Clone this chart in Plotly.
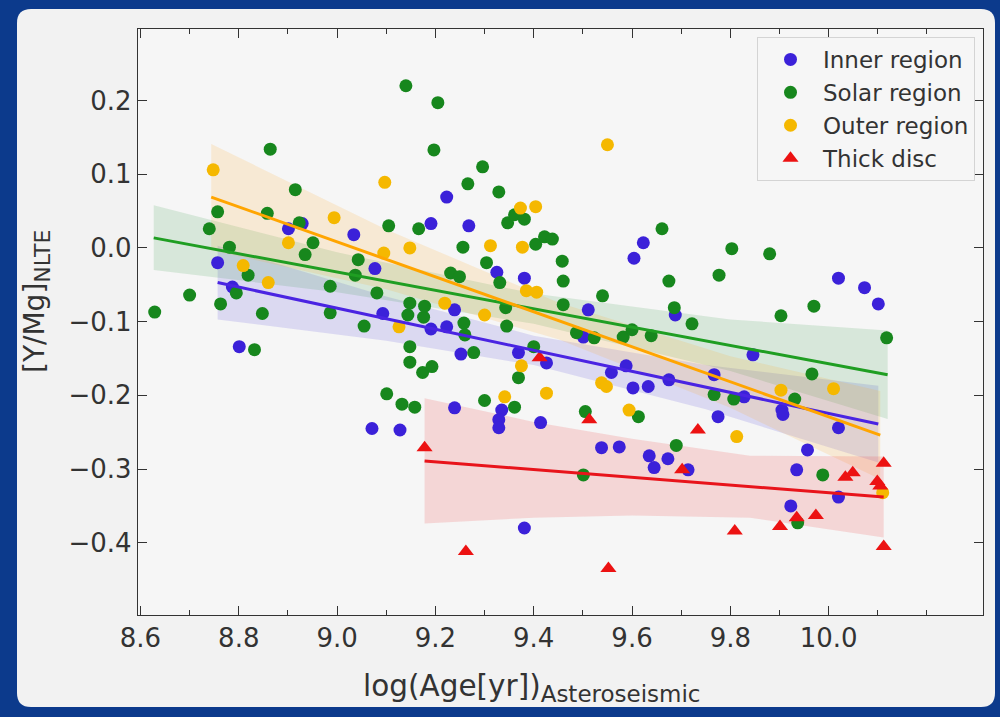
import plotly.graph_objects as go

# ---------------- data ----------------
inner_x = [8.757, 8.787, 8.801, 8.901, 8.929, 9.034, 9.077, 9.093, 9.071, 9.128, 9.191, 9.223, 9.268, 9.191,
           9.223, 9.239, 9.239, 9.252, 9.325, 9.381, 9.335, 9.329, 9.329, 9.369, 9.426, 9.414, 9.381, 9.511,
           9.501, 9.558, 9.588, 9.602, 9.633, 9.675, 9.767, 9.828, 9.846, 9.775, 9.905, 9.907, 10.020, 9.538,
           9.574, 9.635, 9.673, 9.645, 9.714, 9.957, 9.935, 10.020, 9.923, 9.604, 9.623, 9.688, 10.020, 10.073,
           10.101]
inner_y = [-0.020, -0.053, -0.134, 0.026, 0.033, 0.018, -0.028, -0.089, -0.245, -0.247, 0.033, 0.069, 0.030,
           -0.110, -0.107, -0.084, -0.217, -0.144, -0.033, -0.041, -0.220, -0.233, -0.244, -0.142, -0.156,
           -0.237, -0.380, -0.084, -0.121, -0.169, -0.160, -0.190, -0.188, -0.179, -0.172, -0.202, -0.145,
           -0.229, -0.220, -0.226, -0.244, -0.271, -0.270, -0.282, -0.286, -0.298, -0.301, -0.274, -0.301,
           -0.338, -0.350, -0.014, 0.007, -0.091, -0.041, -0.054, -0.076]

solar_x = [8.629, 8.700, 8.740, 8.757, 8.763, 8.781, 8.795, 8.819, 8.832, 8.848, 8.858, 8.864, 8.915, 8.923,
           8.935, 8.951, 8.986, 8.986, 9.037, 9.043, 9.055, 9.081, 9.105, 9.144, 9.148, 9.166, 9.140, 9.205,
           9.197, 9.176, 9.178, 9.148, 9.148, 9.174, 9.193, 9.101, 9.132, 9.158, 9.231, 9.249, 9.256, 9.258,
           9.260, 9.266, 9.278, 9.296, 9.300, 9.304, 9.329, 9.331, 9.343, 9.345, 9.347, 9.361, 9.381, 9.361,
           9.369, 9.400, 9.404, 9.422, 9.438, 9.458, 9.460, 9.460, 9.487, 9.501, 9.505, 9.523, 9.540, 9.582,
           9.600, 9.639, 9.613, 9.661, 9.675, 9.686, 9.690, 9.722, 9.767, 9.777, 9.803, 9.807, 9.880, 9.903,
           9.931, 9.966, 9.970, 9.988, 9.937, 10.118]
solar_y = [-0.087, -0.064, 0.026, 0.049, -0.076, 0.001, -0.061, -0.037, -0.138, -0.089, 0.047, 0.134, 0.079,
           0.034, -0.009, 0.007, -0.052, -0.088, -0.037, -0.016, -0.106, -0.061, 0.030, -0.091, -0.075, 0.026,
           0.220, 0.197, 0.133, -0.094, -0.079, -0.134, -0.155, -0.169, -0.161, -0.198, -0.212, -0.216,
           -0.034, -0.039, 0.001, -0.102, -0.118, 0.087, -0.142, 0.110, -0.207, -0.020, 0.076, -0.047, -0.081,
           -0.106, 0.034, 0.045, 0.039, -0.216, -0.176, -0.134, 0.005, 0.015, 0.012, -0.018, -0.045, -0.077,
           -0.115, -0.308, -0.222, -0.122, -0.065, -0.121, -0.111, -0.119, -0.229, 0.026, -0.045, -0.081,
           -0.268, -0.103, -0.199, -0.037, -0.001, -0.205, -0.008, -0.092, -0.205, -0.171, -0.079, -0.308,
           -0.373, -0.122]

outer_x = [8.748, 8.809, 8.860, 8.901, 8.994, 9.097, 9.095, 9.148, 9.126, 9.219, 9.300, 9.312, 9.373, 9.404,
           9.377, 9.385, 9.406, 9.375, 9.426, 9.341, 9.550, 9.538, 9.548, 9.594, 9.813, 9.903, 10.010, 10.110]
outer_y = [0.106, -0.024, -0.047, 0.007, 0.041, 0.089, -0.007, 0.000, -0.107, -0.075, -0.091, 0.003, 0.054,
           0.056, 0.001, -0.058, -0.060, -0.160, -0.197, -0.202, 0.140, -0.183, -0.188, -0.220, -0.256, -0.193,
           -0.191, -0.332]

thick_x = [9.178, 9.262, 9.412, 9.513, 9.552, 9.702, 9.734, 9.809, 9.901, 9.935, 9.974, 10.034, 10.049,
           10.099, 10.105, 10.112, 10.112]
thick_y = [-0.271, -0.412, -0.149, -0.233, -0.435, -0.301, -0.247, -0.384, -0.378, -0.366, -0.363, -0.311,
           -0.305, -0.317, -0.323, -0.292, -0.405]

# regression lines (end points) and confidence bands
inner_fit_x = [8.757, 10.101]
inner_fit_y = [-0.047, -0.239]
inner_band_x = [8.757, 9.1, 9.4, 9.75, 10.101]
inner_band_lo = [-0.097, -0.126, -0.159, -0.219, -0.291]
inner_band_hi = [0.003, -0.066, -0.119, -0.159, -0.187]

solar_fit_x = [8.627, 10.12]
solar_fit_y = [0.0136, -0.172]
solar_band_x = [8.627, 9.0, 9.4, 9.8, 10.12]
solar_band_lo = [-0.030, -0.060, -0.103, -0.167, -0.232]
solar_band_hi = [0.058, -0.006, -0.062, -0.097, -0.112]

outer_fit_x = [8.744, 10.105]
outer_fit_y = [0.069, -0.254]
outer_band_x = [8.744, 9.1, 9.45, 9.8, 10.105]
outer_band_lo = [-0.003, -0.056, -0.124, -0.217, -0.314]
outer_band_hi = [0.141, 0.025, -0.074, -0.147, -0.194]

thick_fit_x = [9.178, 10.112]
thick_fit_y = [-0.289, -0.338]
thick_band_x = [9.178, 9.4, 9.6, 9.84, 10.112]
thick_band_lo = [-0.374, -0.366, -0.363, -0.366, -0.393]
thick_band_hi = [-0.204, -0.236, -0.259, -0.282, -0.283]

labels = ["Inner region", "Solar region", "Outer region", "Thick disc"]
x_ticks = [8.6, 8.8, 9.0, 9.2, 9.4, 9.6, 9.8, 10.0]
x_minor = [8.7, 8.9, 9.1, 9.3, 9.5, 9.7, 9.9, 10.1, 10.2]
y_ticks = [-0.4, -0.3, -0.2, -0.1, 0.0, 0.1, 0.2]
x_title_main, x_title_sub = "log(Age[yr])", "Asteroseismic"
y_title_main, y_title_sub = "[Y/Mg]", "NLTE"

# ---------------- styling ----------------
W, H = 1000, 717
L, R, T, B = 138, 983, 29, 615
FONT = "DejaVu Sans"
TXT = "#333333"

groups = [
    dict(x=inner_x, y=inner_y, fx=inner_fit_x, fy=inner_fit_y, bx=inner_band_x, blo=inner_band_lo,
         bhi=inner_band_hi, mc="#3b21d9", lc="#4a24e2", fill="rgba(80,70,220,0.16)", sym="circle"),
    dict(x=solar_x, y=solar_y, fx=solar_fit_x, fy=solar_fit_y, bx=solar_band_x, blo=solar_band_lo,
         bhi=solar_band_hi, mc="#17871d", lc="#1f9e22", fill="rgba(40,150,60,0.15)", sym="circle"),
    dict(x=outer_x, y=outer_y, fx=outer_fit_x, fy=outer_fit_y, bx=outer_band_x, blo=outer_band_lo,
         bhi=outer_band_hi, mc="#f5b800", lc="#ffa500", fill="rgba(255,170,40,0.16)", sym="circle"),
    dict(x=thick_x, y=thick_y, fx=thick_fit_x, fy=thick_fit_y, bx=thick_band_x, blo=thick_band_lo,
         bhi=thick_band_hi, mc="#ec1212", lc="#e8141b", fill="rgba(240,60,60,0.17)", sym="triangle-up"),
]

fig = go.Figure()

# bands
for g in groups:
    fig.add_trace(go.Scatter(
        x=list(g["bx"]) + list(g["bx"])[::-1],
        y=list(g["bhi"]) + list(g["blo"])[::-1],
        fill="toself", fillcolor=g["fill"], line=dict(width=0),
        mode="lines", hoverinfo="skip", showlegend=False))

# points
for i, g in enumerate(groups):
    fig.add_trace(go.Scatter(
        x=g["x"], y=g["y"], mode="markers", name=labels[i], legendgroup=labels[i],
        marker=dict(color=g["mc"], size=13 if g["sym"] == "circle" else 14, symbol=g["sym"],
                    line=dict(width=0))))

# regression lines
for g in groups:
    fig.add_trace(go.Scatter(x=g["fx"], y=g["fy"], mode="lines", line=dict(color=g["lc"], width=3),
                             hoverinfo="skip", showlegend=False))

pw, ph = R - L, B - T


def px2x(p):
    return (p - L) / pw


def py2y(p):
    return (B - p) / ph


# rounded white panel behind the chart
x0, x1, y0, y1 = px2x(17), px2x(995), py2y(707), py2y(9)
rx, ry = 14 / pw, 14 / ph
panel = (f"M {x0+rx},{y1} L {x1-rx},{y1} Q {x1},{y1} {x1},{y1-ry} L {x1},{y0+ry} Q {x1},{y0} {x1-rx},{y0} "
         f"L {x0+rx},{y0} Q {x0},{y0} {x0},{y0+ry} L {x0},{y1-ry} Q {x0},{y1} {x0+rx},{y1} Z")

x_title = f"{x_title_main}<sub><span style='font-size:23px'>{x_title_sub}</span></sub>"
y_title = f"{y_title_main}<sub><span style='font-size:22px'>{y_title_sub}</span></sub>"

fig.update_layout(
    width=W, height=H,
    margin=dict(l=L, r=W - R, t=T, b=H - B, pad=0),
    paper_bgcolor="#0c3a8c",
    plot_bgcolor="#f5f5f5",
    font=dict(family=FONT, color=TXT, size=22),
    shapes=[
        dict(type="path", path=panel, xref="paper", yref="paper", fillcolor="#f2f2f2",
             line=dict(width=0), layer="below"),
        dict(type="rect", x0=0, x1=1, y0=0, y1=1, xref="paper", yref="paper", fillcolor="#f6f6f6",
             line=dict(width=0), layer="below"),
    ],
    annotations=[
        dict(text=x_title, x=px2x(532), y=py2y(688), xref="paper", yref="paper", showarrow=False,
             xanchor="center", yanchor="middle", font=dict(size=29.5, color=TXT, family=FONT)),
        dict(text=y_title, x=px2x(36), y=py2y(302), xref="paper", yref="paper", showarrow=False,
             textangle=-90, xanchor="center", yanchor="middle", font=dict(size=28, color=TXT, family=FONT)),
    ],
    legend=dict(x=px2x(975), y=py2y(37), xanchor="right", yanchor="top",
                bgcolor="rgba(246,246,246,0.85)", bordercolor="#d4d4d4", borderwidth=1,
                font=dict(size=23, color=TXT, family=FONT), tracegroupgap=0, itemwidth=55),
    xaxis=dict(range=[8.595, 10.314], tickvals=x_ticks, ticktext=[f"{v:.1f}" for v in x_ticks],
               ticks="inside", ticklen=9, tickwidth=1.2, tickcolor="#333",
               showline=True, linecolor="#333", linewidth=1.3, mirror="ticks",
               showgrid=False, zeroline=False, tickfont=dict(size=26, color=TXT),
               minor=dict(tickvals=x_minor, ticks="inside", ticklen=5, tickwidth=1, tickcolor="#333")),
    yaxis=dict(range=[-0.498, 0.297], tickvals=y_ticks,
               ticktext=[f"{v:.1f}".replace("-", "\u2212") for v in y_ticks],
               ticks="inside", ticklen=9, tickwidth=1.2, tickcolor="#333",
               showline=True, linecolor="#333", linewidth=1.3, mirror="ticks",
               showgrid=False, zeroline=False, tickfont=dict(size=26, color=TXT)),
)

fig.write_html("out.html")
